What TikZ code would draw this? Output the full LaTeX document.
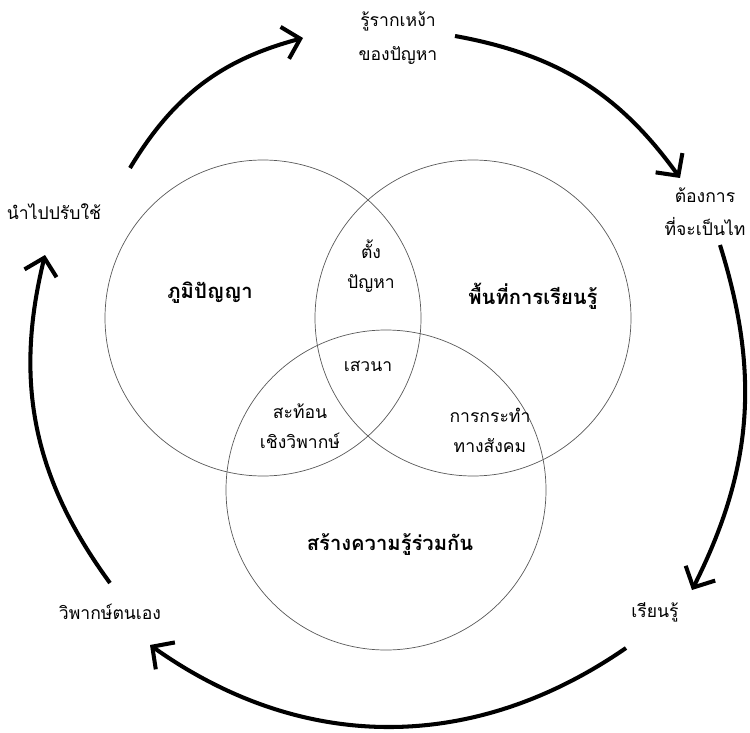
\documentclass[tikz,border=0pt]{standalone}
\usepackage{fontspec}
\setmainfont{Loma}[Script=Thai]
\usetikzlibrary{arrows.meta}
\tikzset{
  ring/.style={draw, thin, gray!70!black},
  cycarrow/.style={line width=2.3pt, -{Straight Barb[length=3.2mm, width=6.6mm, line width=2.3pt]}},
  steplabel/.style={align=center, font=\fontsize{10}{19}\selectfont},
  zonelabel/.style={align=center, font=\fontsize{10}{17}\selectfont},
  setlabel/.style={font=\fontsize{11.5}{14}\selectfont\bfseries}
}
\begin{document}
\begin{tikzpicture}[x=0.02cm, y=-0.02cm]
	\useasboundingbox (0,0) rectangle (750,733);

	%the three sets
	\draw[ring] (263,318) circle (158);
	\draw[ring] (473,318) circle (158);
	\draw[ring] (386,490) circle (160);

	\node[setlabel] (wisdom) at (210,293) {ภูมิปัญญา};
	\node[setlabel] (space) at (533,296) {พื้นที่การเรียนรู้};
	\node[setlabel] (cocreate) at (390,545) {สร้างความรู้ร่วมกัน};

	%overlaps
	\node[zonelabel] (problem) at (371,266) {ตั้ง\\ปัญหา};
	\node[zonelabel] (dialogue) at (368,366) {เสวนา};
	\node[zonelabel] (reflect) at (300,426) {สะท้อน\\เชิงวิพากษ์};
	\node[zonelabel] (action) at (490,430) {การกระทำ\\ทางสังคม};

	%steps of the cycle
	\node[steplabel] (root) at (398,38) {รู้รากเหง้า\\ของปัญหา};
	\node[steplabel] (free) at (705,212) {ต้องการ\\ที่จะเป็นไท};
	\node[steplabel] (learn) at (655,612) {เรียนรู้};
	\node[steplabel] (selfcrit) at (110,612) {วิพากษ์ตนเอง};
	\node[steplabel] (apply) at (54,212) {นำไปปรับใช้};

	\coordinate (a1s) at (130,168);
	\coordinate (a1e) at (303,38);
	\coordinate (a2s) at (455,36);
	\coordinate (a2e) at (680,178);
	\coordinate (a3s) at (720,245);
	\coordinate (a3e) at (692,590);
	\coordinate (a4s) at (626,648);
	\coordinate (a4e) at (150,645);
	\coordinate (a5s) at (110,583);
	\coordinate (a5e) at (45,255);

	%cycle arrows
	\draw[cycarrow] (a1s) to[bend left=22] (a1e);
	\draw[cycarrow] (a2s) to[bend left=22] (a2e);
	\draw[cycarrow] (a3s) to[bend left=22] (a3e);
	\draw[cycarrow] (a4s) to[bend left=35] (a4e);
	\draw[cycarrow] (a5s) to[bend left=25] (a5e);

\end{tikzpicture}
\end{document}
